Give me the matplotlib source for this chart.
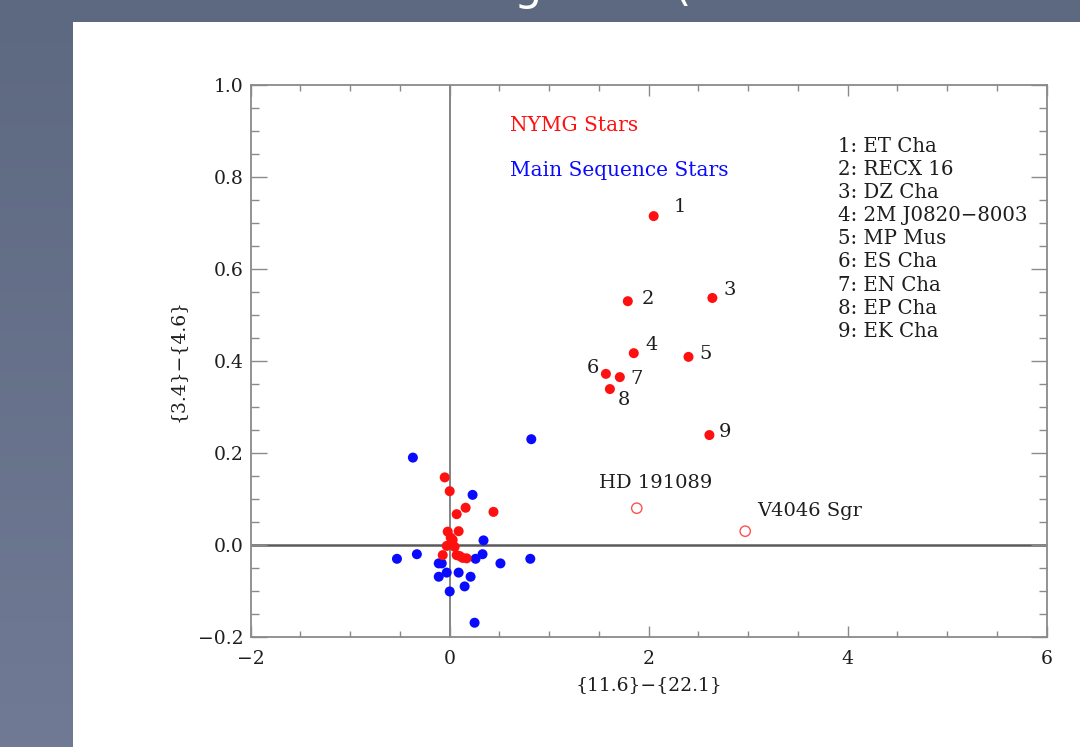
import numpy as np
import matplotlib
matplotlib.use("Agg")
import matplotlib.pyplot as plt
from matplotlib.patches import Rectangle
from matplotlib.ticker import MultipleLocator, FixedLocator

# ---- data -------------------------------------------------------------
# labelled young stars (numbered 1..9)
named_x = [2.05, 1.79, 2.64, 1.85, 2.40, 1.57, 1.71, 1.61, 2.61]
named_y = [0.715, 0.530, 0.537, 0.417, 0.409, 0.372, 0.365, 0.339, 0.239]
named_ids = ["1", "2", "3", "4", "5", "6", "7", "8", "9"]
named_names = ["ET Cha", "RECX 16", "DZ Cha", "2M J0820\u22128003", "MP Mus",
               "ES Cha", "EN Cha", "EP Cha", "EK Cha"]

# remaining NYMG stars near the origin
nymg_x = [-0.05, 0.00, 0.16, 0.07, 0.44, -0.02, 0.09, 0.01, 0.03, -0.03,
          0.05, -0.07, 0.07, 0.10, 0.13, 0.17]
nymg_y = [0.147, 0.117, 0.081, 0.067, 0.072, 0.029, 0.030, 0.016, 0.011, -0.002,
          -0.004, -0.022, -0.022, -0.024, -0.028, -0.029]

# main sequence stars
ms_x = [-0.37, 0.82, 0.23, 0.34, -0.53, -0.33, 0.81, 0.26, 0.33, 0.51,
        -0.11, -0.08, -0.03, 0.09, -0.11, 0.21, 0.15, 0.00, 0.25]
ms_y = [0.190, 0.230, 0.109, 0.010, -0.030, -0.020, -0.030, -0.030, -0.020, -0.040,
        -0.040, -0.040, -0.060, -0.060, -0.069, -0.069, -0.090, -0.101, -0.169]

# debris-disk hosts shown as open circles
open_x = [1.88, 2.97]
open_y = [0.080, 0.030]
open_names = ["HD 191089", "V4046 Sgr"]

x_ticks = [-2, 0, 2, 4, 6]
x_ticklabels = ["\u22122", "0", "2", "4", "6"]
y_ticks = [-0.2, 0.0, 0.2, 0.4, 0.6, 0.8, 1.0]
y_ticklabels = ["\u22120.2", "0.0", "0.2", "0.4", "0.6", "0.8", "1.0"]

# ---- layout -----------------------------------------------------------
W, H = 1080, 747
fig = plt.figure(figsize=(W / 100, H / 100), dpi=100)

bg = fig.add_axes([0, 0, 1, 1])
bg.axis("off")
t = np.linspace(0, 1, 256)[:, None, None]
top_c = np.array([93, 104, 129]) / 255
bot_c = np.array([112, 122, 148]) / 255
grad = top_c + (bot_c - top_c) * t
bg.imshow(grad, aspect="auto", extent=[0, 1, 0, 1], origin="upper")
bg.set_xlim(0, 1)
bg.set_ylim(0, 1)
bg.add_patch(Rectangle((73 / W, 0), 1 - 73 / W, 1 - 22 / H,
                       facecolor="white", edgecolor="none"))

# slide heading, running off the top of the slide
fig.text(528 / W, 1.0, "g", color="white", fontsize=32, ha="center",
         va="baseline", family="DejaVu Sans")
fig.text(682 / W, 1.0, "(", color="white", fontsize=32, ha="center",
         va="baseline", family="DejaVu Sans")

serif = "DejaVu Serif"
ink = "#1e1e1e"
ax = fig.add_axes([250.7 / W, 1 - 637 / H, 796 / W, 552 / H])
ax.set_xlim(-2, 6)
ax.set_ylim(-0.2, 1.0)

spine_c = "#8a8a8a"
for s in ax.spines.values():
    s.set_color(spine_c)
    s.set_linewidth(1.3)

ax.axhline(0, color="#5a5a5a", lw=1.8, zorder=1)
ax.axvline(0, color="#7a7a7a", lw=1.3, zorder=1)

ax.xaxis.set_major_locator(FixedLocator(x_ticks))
ax.yaxis.set_major_locator(FixedLocator(y_ticks))
ax.set_xticklabels(x_ticklabels)
ax.set_yticklabels(y_ticklabels)
ax.xaxis.set_minor_locator(MultipleLocator(0.5))
ax.yaxis.set_minor_locator(MultipleLocator(0.05))
ax.tick_params(axis="both", which="both", direction="in", top=True, right=True,
               color=spine_c, width=1.0, labelsize=13.5, labelcolor=ink)
ax.tick_params(axis="y", which="major", length=11.5, pad=5)
ax.tick_params(axis="y", which="minor", length=6)
ax.tick_params(axis="x", which="major", length=8, pad=9)
ax.tick_params(axis="x", which="minor", length=4)
for lab in ax.get_xticklabels() + ax.get_yticklabels():
    lab.set_family(serif)

ax.set_xlabel("{11.6}\u2212{22.1}", family=serif, fontsize=13.5, color=ink,
              labelpad=6)
ax.set_ylabel("{3.4}\u2212{4.6}", family=serif, fontsize=13.5, color=ink,
              labelpad=8)

# ---- marks ------------------------------------------------------------
red = "#ff1010"
blue = "#0a0aff"
ax.scatter(ms_x, ms_y, s=52, color=blue, edgecolors="none", zorder=3)
ax.scatter(nymg_x, nymg_y, s=52, color=red, edgecolors="none", zorder=4)
ax.scatter(named_x, named_y, s=52, color=red, edgecolors="none", zorder=4)
ax.scatter(open_x, open_y, s=55, facecolors="none", edgecolors="#ff5050",
           linewidths=1.0, zorder=4)

num_offsets = [(26, 9), (20, 2), (17, 8), (18, 8), (17, 3),
               (-13, 6), (17, -2), (14, -11), (16, 3)]
for xv, yv, lab, off in zip(named_x, named_y, named_ids, num_offsets):
    ax.annotate(lab, (xv, yv), xytext=off, textcoords="offset pixels",
                ha="center", va="center", family=serif, fontsize=14,
                color=ink)

open_offsets = [(-38, 25), (12, 20)]
for xv, yv, lab, off in zip(open_x, open_y, open_names, open_offsets):
    ax.annotate(lab, (xv, yv), xytext=off, textcoords="offset pixels",
                ha="left", va="center", family=serif, fontsize=14,
                color=ink)

# group key
ax.text(0.326, 0.9275, "NYMG Stars", transform=ax.transAxes, color=red,
        family=serif, fontsize=14.5, va="center", ha="left")
ax.text(0.326, 0.846, "Main Sequence Stars", transform=ax.transAxes,
        color=blue, family=serif, fontsize=14.5, va="center", ha="left")

# numbered star list
for i, (num, name) in enumerate(zip(named_ids, named_names)):
    ax.text(0.738, 0.8877 - i * 0.04167, f"{num}: {name}",
            transform=ax.transAxes, color=ink, family=serif,
            fontsize=14.2, va="center", ha="left")

fig.savefig("out.png", dpi=100)
